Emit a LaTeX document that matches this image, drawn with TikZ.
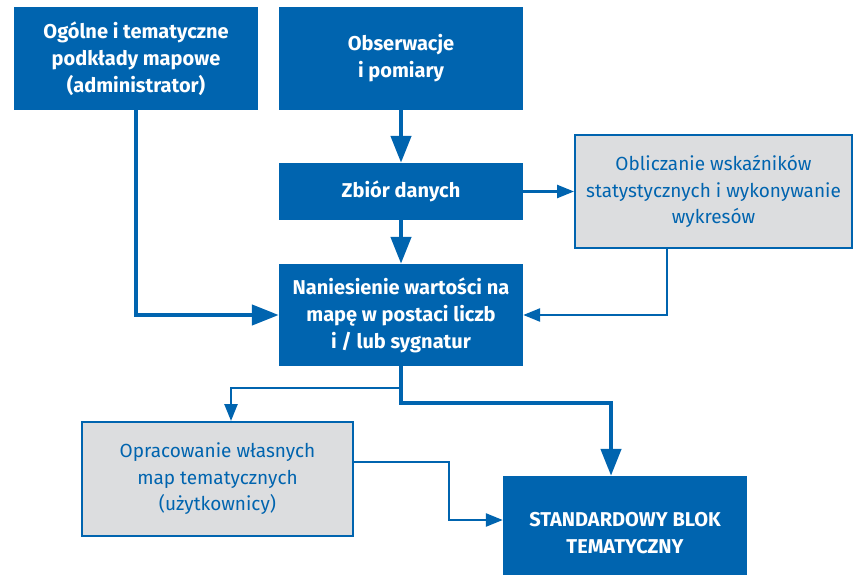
\documentclass[tikz,border=0pt]{standalone}
\usepackage{fontspec}
\setmainfont{Fira Sans}
\usetikzlibrary{arrows.meta}
\definecolor{bl}{HTML}{0064AF}
\definecolor{gr}{HTML}{DCDDDF}
\begin{document}
\begin{tikzpicture}[x=1pt,y=-1pt,
 bbox/.style={fill=bl, text=white, font=\bfseries\fontsize{20}{27}\selectfont, align=center, inner sep=0pt},
 gbox/.style={fill=gr, draw=bl, line width=2pt, text=bl, font=\fontsize{19}{26.5}\selectfont, align=center, inner sep=0pt},
 thickline/.style={draw=bl, line width=4.5pt, -{Triangle[length=27pt,width=20pt]}},
 thinline/.style={draw=bl, line width=2.5pt, -{Triangle[length=17pt,width=13pt]}}]
\useasboundingbox (0,0) rectangle (854,575);
\node[bbox, minimum width=244pt, minimum height=103pt] (A) at (136,58.5) {Ogólne i tematyczne\\podkłady mapowe\\(administrator)};
\node[bbox, minimum width=244pt, minimum height=103pt] (B) at (401,58.5) {Obserwacje\\i pomiary};
\node[bbox, minimum width=244pt, minimum height=57pt] (C) at (401,191.5) {Zbiór danych};
\node[gbox, minimum width=277pt, minimum height=113pt] (D) at (713.5,191.5) {Obliczanie wskaźników\\statystycznych i wykonywanie\\wykresów};
\node[bbox, minimum width=244pt, minimum height=102pt] (E) at (401,315) {Naniesienie wartości na\\mapę w postaci liczb\\i / lub sygnatur};
\node[gbox, minimum width=271pt, minimum height=114pt] (F) at (217.5,479) {Opracowanie własnych\\map tematycznych\\(użytkownicy)};
\node[bbox, minimum width=244pt, minimum height=114pt] (G) at (625,533) {STANDARDOWY BLOK\\TEMATYCZNY};
\draw[thickline] (A.south) |- (E.west);
\draw[thickline] (B) -- (C);
\draw[thickline] (C) -- (E);
\draw[thinline] (C.east) -- (C.east -| D.west);
\draw[thinline] ([xshift=-46.5pt]D.south) |- (E.east);
\draw[thickline] (E.south) -- ++(0,37) -| ([xshift=-14pt]G.north);
\draw[thinline] ([yshift=-22pt]E.south) -| ([xshift=13.5pt]F.north);
\draw[thinline] ([yshift=17pt]F.east) -- ++(95,0) |- ([yshift=13pt]G.west);
\end{tikzpicture}
\end{document}
